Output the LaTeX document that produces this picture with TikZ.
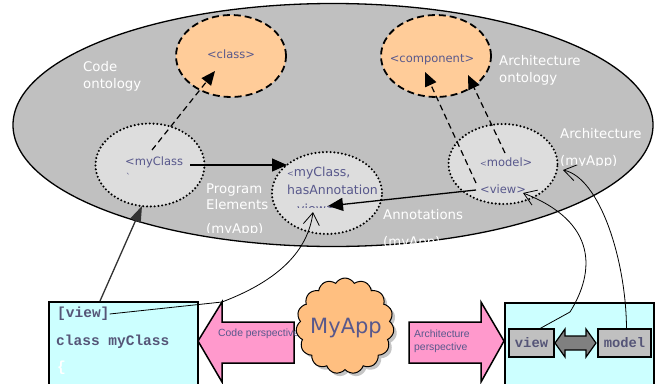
\documentclass[tikz,border=0pt]{standalone}
\usepackage{fontspec}
\setmainfont{DejaVu Sans}
\newfontfamily\libsans{Liberation Sans}
\newfontfamily\libmono{Liberation Mono}
\usetikzlibrary{shapes.geometric,shapes.symbols,shadows,arrows.meta,calc}
\definecolor{bigfill}{HTML}{C0C0C0}
\definecolor{onto}{HTML}{FFCC99}
\definecolor{elem}{HTML}{DDDDDD}
\definecolor{lbl}{HTML}{58588C}
\definecolor{cyanbox}{HTML}{CCFFFF}
\definecolor{pinkarr}{HTML}{FF99CC}
\definecolor{cloudc}{HTML}{FFBF80}
\definecolor{monoc}{HTML}{555577}
\definecolor{dblgray}{HTML}{808080}
\tikzset{
  ontonode/.style={ellipse, draw=black, line width=1.8pt, dash pattern=on 7pt off 4pt, fill=onto, inner sep=0, minimum width=110pt, minimum height=82pt},
  elemnode/.style={ellipse, draw=black, line width=2.3pt, dash pattern=on 0pt off 3.8pt, line cap=round, fill=elem, inner sep=0},
  wlabel/.style={text=white, font=\fontsize{13.3}{15}\selectfont, anchor=west, inner sep=0},
  nlabel/.style={text=lbl, font=\fontsize{11.5}{13}\selectfont, inner sep=0},
  monotxt/.style={text=monoc, font=\libmono\bfseries\fontsize{14.5}{16}\selectfont, anchor=west, inner sep=0},
  persp/.style={text=lbl, font=\libsans\fontsize{10.4}{12}\selectfont, anchor=west, inner sep=0},
  dasharr/.style={line width=1.2pt, dash pattern=on 6pt off 4pt, -{Triangle[length=14pt,width=12pt]}},
  solarr/.style={line width=1.3pt, -{Triangle[length=15pt,width=13pt]}},
  openarr/.style={line width=0.8pt, -{Straight Barb[length=12pt,width=16pt]}},
  boxstyle/.style={draw=black, line width=1.5pt, fill=cyanbox, inner sep=0, anchor=north west},
  smallbox/.style={draw=black, line width=1.3pt, fill=bigfill, inner sep=0, minimum height=28pt, text=monoc, font=\libmono\bfseries\fontsize{13.8}{16}\selectfont},
  pinkshape/.style={draw=black, line width=1.5pt, fill=pinkarr, line join=miter}
}
\begin{document}
\begin{tikzpicture}[x=1pt,y=-1pt]
\useasboundingbox (0,0) rectangle (658,383);
\clip (0,0) rectangle (658,383);
\fill[white] (0,0) rectangle (658,383);

% big ellipse
\node[ellipse, draw=black, line width=1.3pt, fill=bigfill, minimum width=640pt, minimum height=243pt, inner sep=0] (world) at (333,125) {};

% ontology nodes
\node[ontonode] (cls) at (231,56) {};
\node[ontonode] (comp) at (436,56) {};
% element nodes
\node[elemnode, minimum width=109pt, minimum height=83pt] (myc) at (150,165) {};
\node[elemnode, minimum width=110pt, minimum height=82pt] (ann) at (327,193) {};
\node[elemnode, minimum width=109pt, minimum height=80pt] (arch) at (503,164) {};

% labels inside nodes
\node[nlabel] (clsl) at (231,54) {<class>};
\node[nlabel] (compl) at (432,60) {<component>};
\node[nlabel, anchor=west] (mycl) at (125,162) {<myClass};
\node[nlabel, anchor=west, font=\fontsize{9}{10}\selectfont] (mycm) at (126,177) {\textasciigrave};
\node[nlabel, anchor=west, font=\fontsize{12.5}{14}\selectfont] (annl1) at (287,173) {{\fontsize{8}{9}\selectfont<}myClass,};
\node[nlabel, anchor=west, font=\fontsize{12.5}{14}\selectfont] (annl2) at (287,190) {hasAnnotation};
\begin{scope}
  \clip (280,198) rectangle (370,207);
  \node[nlabel, anchor=west, font=\fontsize{12.5}{14}\selectfont] (annl3) at (297,209) {view>};
\end{scope}
\node[nlabel, anchor=west] (modl) at (480,162) {{\fontsize{8}{9}\selectfont<}model>};
\node[nlabel, anchor=west] (viewl) at (480,189) {<view>};

% white labels
\node[wlabel] (co1) at (83,67) {Code};
\node[wlabel] (co2) at (83,85) {ontology};
\node[wlabel] (ao1) at (499,61) {Architecture};
\node[wlabel] (ao2) at (499,79) {ontology};
\node[wlabel] (pe1) at (206,190) {Program};
\node[wlabel] (pe2) at (206,205) {Elements};
\begin{scope}
  \clip (200,218) rectangle (280,232);
  \node[wlabel] (pe3) at (206,230) {(myApp)};
\end{scope}
\node[wlabel] (an1) at (383,215) {Annotations};
\begin{scope}
  \clip (378,230) rectangle (460,247);
  \node[wlabel] (an2) at (383,243) {(myApp)};
\end{scope}
\node[wlabel] (ar1) at (560,134) {Architecture};
\begin{scope}
  \clip (555,150) rectangle (640,165.5);
  \node[wlabel] (ar2) at (560,162) {(myApp)};
\end{scope}

% connectors in the ellipse
\draw[dasharr] ($(myc)+(2,-15)$) -- ($(cls)+(-16,15)$);
\draw[dasharr] ($(arch)+(2,-11)$) -- ($(comp)+(32,19)$);
\draw[dasharr] ($(arch)+(-27,19)$) -- ($(comp)+(-11,16)$);
\draw[solarr] ($(myc)+(40,0)$) -- ($(ann)+(-40,-28)$);
\draw[solarr] ($(arch)+(-27,26)$) -- ($(ann)+(1,13)$);

% pink perspective arrows
\draw[pinkshape] (198,341) -- (222,302) -- (222,322) -- (294,322) -- (294,363) -- (222,363) -- (222,382) -- cycle;
\draw[pinkshape] (409,322) -- (481,322) -- (481,302) -- (504,341) -- (481,382) -- (481,363) -- (409,363) -- cycle;
\node[persp] (cp) at (218,334) {Code perspective};
\node[persp] (ap1) at (414,334) {Architecture};
\node[persp] (ap2) at (414,348) {perspective};

% cloud
\node[cloud, cloud puffs=15, cloud puff arc=120, cloud ignores aspect, draw=black, line width=1pt, fill=cloudc, minimum width=98pt, minimum height=96pt, inner sep=0, drop shadow={shadow xshift=3pt, shadow yshift=-3pt, fill=black!45}] (app) at (345,326) {};
\node[text=lbl, font=\fontsize{21}{24}\selectfont, inner sep=0] (appl) at (346,328) {MyApp};

% code box
\node[boxstyle, minimum width=149pt, minimum height=100pt] (cbox) at (48,301) {};
\node[monotxt] (viewtxt) at (57,314) {[view]};
\node[monotxt] (clstxt) at (56,342) {class myClass};
\node[monotxt, text=white] (brace) at (57,368) {\{};

% architecture box
\node[boxstyle, minimum width=149pt, minimum height=100pt] (abox) at (504,302) {};
\node[smallbox, minimum width=45pt] (vbox) at (531.5,343) {view};
\node[smallbox, minimum width=53pt] (mbox) at (624.5,343) {model};
\draw[draw=black, line width=1.2pt, fill=dblgray] (555,343) -- (565,329) -- (565,336) -- (586,336) -- (586,329) -- (596,343) -- (586,357) -- (586,350) -- (565,350) -- (565,357) -- cycle;

% connectors from the bottom
\draw[solarr, draw=black!80, fill=black!80, -{Triangle[length=16pt,width=11pt]}] ($(cbox.north west)+(52,0)$) -- ($(myc)+(-8,41)$);
\draw[openarr] (viewtxt.east) -- (222,302) .. controls (280,280) and (308,250) .. ($(ann)+(-14,19)$);
\draw[openarr] ($(vbox.north)+(7,1)$) -- (570,312) .. controls (595,272) and (598,222) .. ($(arch)+(20,29)$);
\draw[openarr] ($(mbox.north)+(2,0)$) .. controls (626,260) and (600,178) .. ($(arch)+(60,6)$);
\end{tikzpicture}
\end{document}
